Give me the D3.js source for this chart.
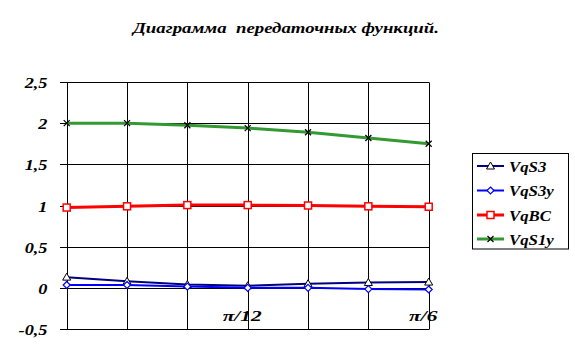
<!DOCTYPE html>
<html><head><meta charset="utf-8">
<script src="https://cdn.jsdelivr.net/npm/d3@7"></script>
<style>
html,body{margin:0;padding:0;background:#fff;}
</style></head>
<body>
<svg id="c" width="575" height="359"></svg>
<script>
const categories = [0, 1, 2, 3, 4, 5, 6];
const xLabels = ["", "", "", "π/12", "", "", "π/6"];
const yTicks = [-0.5, 0, 0.5, 1, 1.5, 2, 2.5];
const seriesNames = ["VqS3", "VqS3y", "VqBC", "VqS1y"];
const vqS3  = [0.13, 0.08, 0.04, 0.025, 0.05, 0.065, 0.07];
const vqS3y = [0.035, 0.035, 0.015, 0.0, 0.0, -0.015, -0.02];
const vqBC  = [0.975, 0.99, 1.005, 1.005, 1.0, 0.99, 0.985];
const vqS1y = [2.0, 2.0, 1.975, 1.94, 1.89, 1.82, 1.75];
const title = "Диаграмма  передаточных функций.";

const svg = d3.select("#c");
const L = 66.7, R = 428.7, T = 82, B = 329;
const x = d3.scalePoint().domain(categories).range([L, R]);
const y = d3.scaleLinear().domain([-0.5, 2.5]).range([B, T]);

function font(sel, size) {
  sel.style("font-family", '"Liberation Serif"').style("font-weight", "bold")
    .style("font-style", "italic").style("font-size", size + "px").attr("fill", "#000");
  return sel;
}
// stretch text horizontally (reference glyphs are wide)
function stretch(sel, f) {
  sel.each(function() {
    const n = this.getComputedTextLength();
    if (n > 0) d3.select(this).attr("textLength", n * f).attr("lengthAdjust", "spacingAndGlyphs");
  });
}

const tt = svg.append("text").attr("x", 133).attr("y", 33).style("white-space", "pre").text(title);
font(tt, 14.5).attr("textLength", 306).attr("lengthAdjust", "spacingAndGlyphs");

// horizontal gridlines
svg.append("g").selectAll("line").data(yTicks).join("line")
  .attr("x1", 60).attr("x2", R + 0.5).attr("y1", d => Math.round(y(d)) + 0.5).attr("y2", d => Math.round(y(d)) + 0.5)
  .attr("stroke", "#000").attr("stroke-width", 1);
// vertical gridlines
svg.append("g").selectAll("line").data(categories).join("line")
  .attr("x1", d => Math.round(x(d)) + 0.5).attr("x2", d => Math.round(x(d)) + 0.5)
  .attr("y1", Math.round(T) + 0.5).attr("y2", Math.round(B) + 0.5)
  .attr("stroke", "#000").attr("stroke-width", 1);

// y axis labels
const yAxis = d3.axisLeft(y).tickValues(yTicks).tickSize(0).tickPadding(0)
  .tickFormat(d => String(d).replace(".", ","));
const ga = svg.append("g").attr("transform", `translate(47.5,0)`).call(yAxis);
ga.select(".domain").remove();
ga.attr("font-family", null).attr("font-size", null);
const yt = ga.selectAll("text").attr("dy", null).attr("y", 5.5);
font(yt, 15.5);
stretch(yt, 1.18);

// x labels
const xl = svg.append("g").selectAll("text").data(categories).join("text")
  .attr("x", d => x(d) - 5.5).attr("y", 321).attr("text-anchor", "middle")
  .text((d, i) => xLabels[i]);
font(xl, 15.5);
stretch(xl, 1.38);

const series = [
  {name: seriesNames[0], values: vqS3, color: "#000080", w: 2, marker: "tri"},
  {name: seriesNames[1], values: vqS3y, color: "#0000FF", w: 2, marker: "dia"},
  {name: seriesNames[2], values: vqBC, color: "#FF0000", w: 3, marker: "sq"},
  {name: seriesNames[3], values: vqS1y, color: "#339933", w: 3, marker: "x"}
];
const line = d3.line().x((d, i) => x(categories[i])).y(d => y(d));

function drawMarker(g, type, color, cx, cy) {
  if (type === "tri") {
    g.append("path").attr("d", `M${cx},${cy-4}L${cx+4},${cy+3}L${cx-4},${cy+3}Z`)
      .attr("fill", "#fff").attr("stroke", "#000").attr("stroke-width", 1);
  } else if (type === "dia") {
    g.append("path").attr("d", `M${cx},${cy-3.5}L${cx+3.5},${cy}L${cx},${cy+3.5}L${cx-3.5},${cy}Z`)
      .attr("fill", "#fff").attr("stroke", color).attr("stroke-width", 1.2);
  } else if (type === "sq") {
    g.append("rect").attr("x", cx-3.5).attr("y", cy-3.5).attr("width", 7).attr("height", 7)
      .attr("fill", "#fff").attr("stroke", color).attr("stroke-width", 1.5);
  } else {
    g.append("path").attr("d", `M${cx-3},${cy-3}L${cx+3},${cy+3}M${cx+3},${cy-3}L${cx-3},${cy+3}`)
      .attr("stroke", "#000").attr("stroke-width", 1.2).attr("fill", "none");
  }
}

series.forEach(s => {
  const g = svg.append("g");
  g.append("path").datum(s.values).attr("d", line).attr("fill", "none")
    .attr("stroke", s.color).attr("stroke-width", s.w);
  s.values.forEach((v, i) => drawMarker(g, s.marker, s.color, x(categories[i]), y(v)));
});

// legend
const lg = svg.append("g");
lg.append("rect").attr("x", 472.5).attr("y", 153.5).attr("width", 96).attr("height", 95.5)
  .attr("fill", "#fff").attr("stroke", "#000").attr("stroke-width", 1);
const ly = [166, 190.5, 215, 239];
series.forEach((s, i) => {
  lg.append("line").attr("x1", 477).attr("x2", 504).attr("y1", ly[i]).attr("y2", ly[i])
    .attr("stroke", s.color).attr("stroke-width", s.w);
  drawMarker(lg, s.marker, s.color, 490.5, ly[i]);
  const t = lg.append("text").attr("x", 509).attr("y", ly[i] + 5.5).text(s.name);
  font(t, 15);
  stretch(t, 1.12);
});
</script>
</body></html>
